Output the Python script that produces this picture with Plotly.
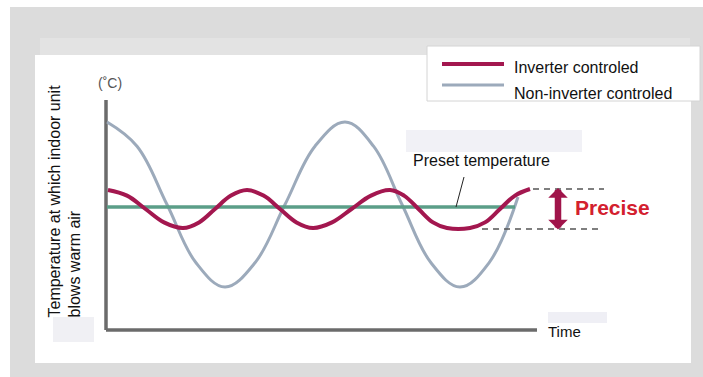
import plotly.graph_objects as go

FONT = "Liberation Sans, Arial, sans-serif"
RED = "#a3174f"
BLUE = "#9caabb"
GREEN = "#5b9e88"
AXIS = "#6b6b6b"

# time in arbitrary units, temperature in arbitrary degrees
INV_TIME = [0.2, 2.1, 3.95, 5.8, 7.7, 9.3, 10.9, 12.5, 14.1, 15.75, 17.4, 19.05, 20.7,
            22.6, 24.55, 26.5, 28.4, 29.8, 31.25, 32.7, 34.1, 36.4, 37.9, 39.4, 40.9, 42.4]
INV_TEMP = [21.7, 21.14, 19.8, 18.46, 17.9, 18.46, 19.8, 21.14, 21.7, 21.14, 19.8, 18.46, 17.9,
            18.46, 19.8, 21.14, 21.7, 21.14, 19.8, 18.46, 17.9, 17.9, 18.46, 19.8, 21.14, 21.8]

NONINV_TIME = [0.1, 3.1, 6.1, 9.0, 11.9, 14.9, 17.9, 20.9, 23.9, 26.75, 29.6, 32.5, 35.4, 38.3, 41.2]
NONINV_TEMP = [28.5, 26.08, 20.25, 14.42, 12.0, 14.42, 20.25, 26.08, 28.5, 26.08, 20.25, 14.42,
               12.0, 14.42, 21.0]

PRESET_TIME = [0.1, 40.9]
PRESET_TEMP = [20.0, 20.0]

UPPER_DASH_TIME = [42.7, 49.8]
UPPER_DASH_TEMP = [21.8, 21.8]
LOWER_DASH_TIME = [37.6, 49.7]
LOWER_DASH_TEMP = [17.8, 17.8]

AXIS_X_TIME = [0.0, 43.1]
AXIS_X_TEMP = [7.7, 7.7]
AXIS_Y_TIME = [0.0, 0.0]
AXIS_Y_TEMP = [7.7, 30.7]

X_RANGE = [-10.6, 59.7]
Y_RANGE = [3.0, 40.7]

fig = go.Figure()

# axes drawn as lines (the diagram has no ticks)
fig.add_trace(go.Scatter(x=AXIS_X_TIME, y=AXIS_X_TEMP, mode="lines",
                         line=dict(color=AXIS, width=3.5), hoverinfo="skip"))
fig.add_trace(go.Scatter(x=AXIS_Y_TIME, y=AXIS_Y_TEMP, mode="lines",
                         line=dict(color=AXIS, width=3.5), hoverinfo="skip"))

fig.add_trace(go.Scatter(x=NONINV_TIME, y=NONINV_TEMP, mode="lines", name="Non-inverter controled",
                         line=dict(color=BLUE, width=3, shape="spline", smoothing=1.1)))
fig.add_trace(go.Scatter(x=PRESET_TIME, y=PRESET_TEMP, mode="lines", name="Preset temperature",
                         line=dict(color=GREEN, width=3.5)))
fig.add_trace(go.Scatter(x=INV_TIME, y=INV_TEMP, mode="lines", name="Inverter controled",
                         line=dict(color=RED, width=4, shape="spline", smoothing=1.1)))

for xs, ys in [(UPPER_DASH_TIME, UPPER_DASH_TEMP), (LOWER_DASH_TIME, LOWER_DASH_TEMP)]:
    fig.add_trace(go.Scatter(x=xs, y=ys, mode="lines",
                             line=dict(color="#555555", width=1.5, dash="6px,5px"), hoverinfo="skip"))

W, H = 703, 377


def px_rect(x0, y0, x1, y1, fill, line=None):
    return dict(type="rect", xref="paper", yref="paper", layer="below",
                x0=x0 / W, x1=x1 / W, y0=1 - y1 / H, y1=1 - y0 / H,
                fillcolor=fill, line=line or dict(width=0))


shapes = [
    px_rect(10, 7, 703, 377, "#dcdcdc"),
    px_rect(40, 38, 690, 55, "#e3e3e3"),
    px_rect(35, 55, 691, 363, "white"),
    px_rect(406, 130, 582, 152, "#f1f1f6"),
    px_rect(53, 317, 94, 342, "#f0f0f4"),
    px_rect(548, 312, 607, 323, "#efeff5"),
    px_rect(427, 46, 700, 101, "white", dict(color="#d4d4d4", width=1)),
    # legend samples
    dict(type="line", xref="paper", yref="paper", x0=442 / W, x1=504 / W,
         y0=1 - 64 / H, y1=1 - 64 / H, line=dict(color=RED, width=4)),
    dict(type="line", xref="paper", yref="paper", x0=442 / W, x1=504 / W,
         y0=1 - 85 / H, y1=1 - 85 / H, line=dict(color=BLUE, width=3)),
    # leader from label to preset line
    dict(type="line", xref="x", yref="y", x0=35.8, y0=23.0, x1=35.0, y1=20.0,
         line=dict(color="#222222", width=1)),
]

annotations = [
    dict(x=-4.2, y=20.55, text="Temperature at which indoor unit<br>blows warm air",
         textangle=-90, align="left", showarrow=False,
         font=dict(family=FONT, size=16, color="#111111")),
    dict(x=0.35, y=32.4, text="(˚C)", showarrow=False,
         font=dict(family=FONT, size=14, color="#555555")),
    dict(x=44.0, y=7.6, text="Time", xanchor="left", showarrow=False,
         font=dict(family=FONT, size=15, color="#111111")),
    dict(x=30.5, y=24.7, text="Preset temperature", xanchor="left", showarrow=False,
         font=dict(family=FONT, size=16, color="#111111")),
    dict(x=46.7, y=20.0, text="<b>Precise</b>", xanchor="left", showarrow=False,
         font=dict(family=FONT, size=21, color="#d3202e")),
    dict(x=45.2, y=21.9, ax=45.2, ay=17.6, axref="x", ayref="y", text="",
         showarrow=True, arrowside="end+start", arrowhead=1, arrowsize=0.5,
         startarrowhead=1, startarrowsize=0.5,
         arrowwidth=6.5, arrowcolor="#a0144a"),
    dict(xref="paper", yref="paper", x=512 / W, y=1 - 57 / H, text="Inverter controled",
         xanchor="left", showarrow=False, font=dict(family=FONT, size=16, color="#111111")),
    dict(xref="paper", yref="paper", x=512 / W, y=1 - 83 / H, text="Non-inverter controled",
         xanchor="left", showarrow=False, font=dict(family=FONT, size=16, color="#111111")),
]

fig.update_layout(
    width=W, height=H, margin=dict(l=0, r=0, t=0, b=0),
    paper_bgcolor="white", plot_bgcolor="rgba(0,0,0,0)",
    showlegend=False, hovermode=False,
    xaxis=dict(range=X_RANGE, visible=False, fixedrange=True),
    yaxis=dict(range=Y_RANGE, visible=False, fixedrange=True),
    shapes=shapes, annotations=annotations,
)

# drop the page's default body margin so the figure sits at the window origin
fig.write_html("out.html", config={"displayModeBar": False, "staticPlot": True},
               post_script="document.body.style.margin='0';"
                           "document.body.style.overflow='hidden';")
